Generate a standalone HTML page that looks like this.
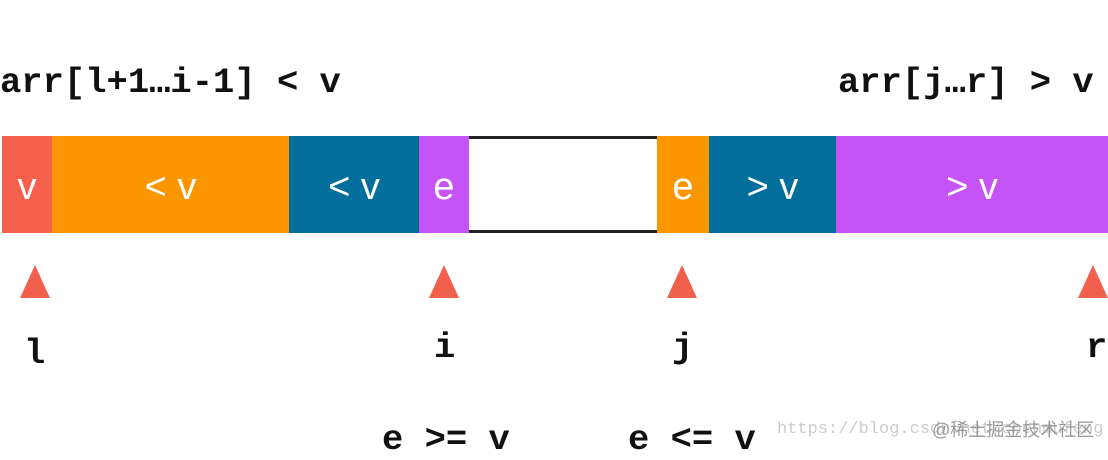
<!DOCTYPE html>
<html><head><meta charset="utf-8"><style>
body{margin:0;width:1108px;height:453px;background:#fff;position:relative;overflow:hidden;font-family:"Liberation Mono",monospace;}
.t{position:absolute;font-weight:bold;font-size:35.5px;color:#111;white-space:pre;line-height:1;}
.s{position:absolute;top:136px;height:97px;padding-top:6px;box-sizing:border-box;display:flex;align-items:center;justify-content:center;color:#fff;font-family:"Liberation Sans",sans-serif;font-size:38px;}
.tri{position:absolute;top:265px;width:0;height:0;border-left:15px solid transparent;border-right:15px solid transparent;border-bottom:33px solid #f0604c;}
</style></head><body>
<div class="t" style="left:0;top:65px">arr[l+1…i-1] &lt; v</div>
<div class="t" style="left:838px;top:65px">arr[j…r] &gt; v</div>
<div class="s" style="left:2px;width:50px;background:#f5604c">v</div>
<div class="s" style="left:52px;width:237px;background:#fb9600">&lt; v</div>
<div class="s" style="left:289px;width:130px;background:#026e9b">&lt; v</div>
<div class="s" style="left:419px;width:50px;background:#c653f5">e</div>
<div class="s" style="left:469px;width:188px;height:97px;background:#fff;border-top:3px solid #222;border-bottom:3px solid #222;"></div>
<div class="s" style="left:657px;width:52px;background:#fb9600">e</div>
<div class="s" style="left:709px;width:127px;background:#026e9b">&gt; v</div>
<div class="s" style="left:836px;width:272px;background:#c653f5">&gt; v</div>
<div class="tri" style="left:20px"></div>
<div class="tri" style="left:429px"></div>
<div class="tri" style="left:667px"></div>
<div class="tri" style="left:1078px"></div>
<div class="t" style="left:24px;top:336px">l</div>
<div class="t" style="left:434px;top:330px">i</div>
<div class="t" style="left:672px;top:330px">j</div>
<div class="t" style="left:1086px;top:330px">r</div>
<div class="t" style="left:382px;top:422px">e &gt;= v</div>
<div class="t" style="left:628px;top:422px">e &lt;= v</div>
<div style="position:absolute;left:777px;top:420px;font-family:'Liberation Mono',monospace;font-size:17px;color:#ccc;white-space:pre">https://blog.csdn.net/chenmufeng</div>
<div style="position:absolute;left:932px;top:416px;font-family:'Liberation Sans','Noto Sans CJK SC',sans-serif;font-size:18px;color:#999;white-space:pre">@稀土掘金技术社区</div>
</body></html>
